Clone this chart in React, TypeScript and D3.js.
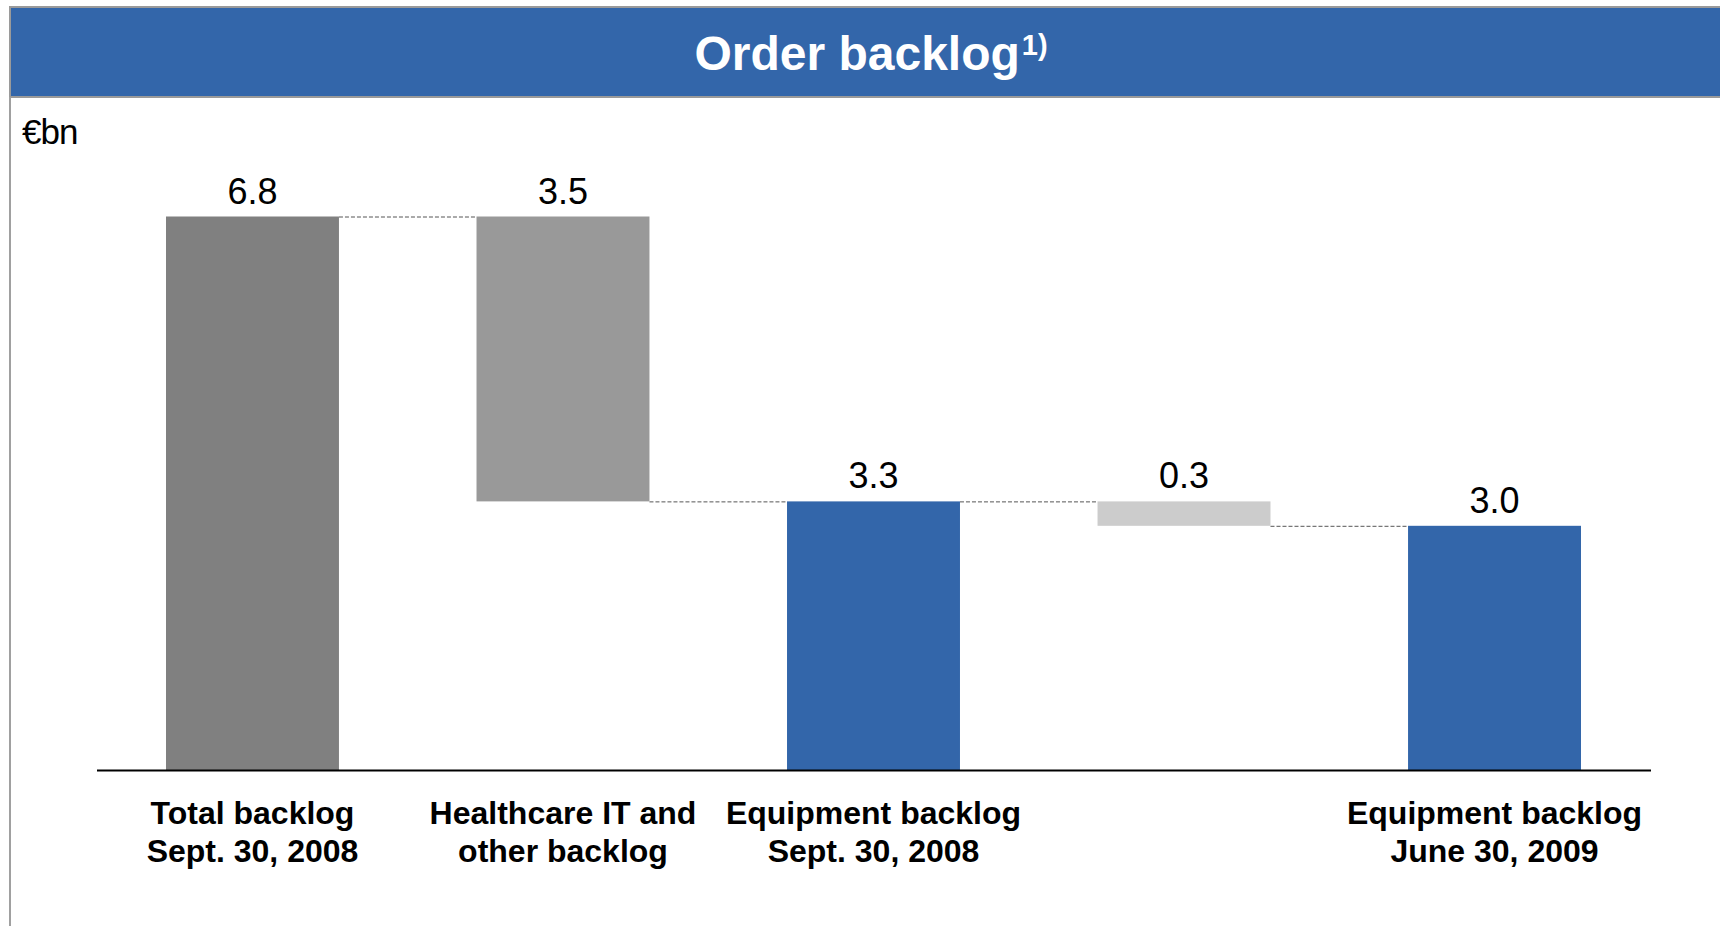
import React from "react";
import * as d3 from "d3";

const categories: string[][] = [
  ["Total backlog", "Sept. 30, 2008"],
  ["Healthcare IT and", "other backlog"],
  ["Equipment backlog", "Sept. 30, 2008"],
  [],
  ["Equipment backlog", "June 30, 2009"],
];
const values: number[] = [6.8, 3.5, 3.3, 0.3, 3.0];
const kinds: string[] = ["total", "decrease", "total", "decrease", "total"];
const valueLabels: string[] = ["6.8", "3.5", "3.3", "0.3", "3.0"];
const barColors: string[] = ["#808080", "#999999", "#3366aa", "#cccccc", "#3366aa"];

const W = 1720;
const H = 926;
const BLUE = "#3366aa";
const FONT = "'Liberation Sans', Arial, Helvetica, sans-serif";

export default function App() {
  let running = 0;
  const segs = values.map((v, i) => {
    let lo: number, hi: number;
    if (kinds[i] === "total") {
      lo = 0;
      hi = v;
      running = v;
    } else {
      hi = running;
      lo = running - v;
      running = lo;
    }
    return { i, lo, hi };
  });

  const x = d3
    .scaleBand<number>()
    .domain(values.map((_, i) => i))
    .range([166, 1581])
    .paddingInner(0.443)
    .paddingOuter(0);
  const y = d3.scaleLinear().domain([0, 6.8]).range([770, 216.5]);

  const connectors = segs.slice(0, -1).map((s, i) => {
    const next = segs[i + 1];
    return {
      x1: (x(i) as number) + x.bandwidth(),
      x2: x(i + 1) as number,
      y: y(next.hi),
    };
  });

  return (
    <svg
      width={W}
      height={H}
      style={{ position: "absolute", left: 0, top: 0, display: "block", background: "#fff" }}
      fontFamily={FONT}
    >
      <rect x={10} y={7} width={W - 9} height={90} fill={BLUE} stroke="#9a9a9a" strokeWidth={2} />
      <line x1={10} y1={97} x2={10} y2={H} stroke="#a0a0a0" strokeWidth={2} />
      <text x={871} y={70} textAnchor="middle" fill="#fff" fontSize={48} fontWeight="bold">
        Order backlog
        <tspan fontSize={29} dx={2} dy={-15}>1)</tspan>
      </text>

      <text x={22} y={144} fontSize={35} fill="#000" letterSpacing={-1}>€bn</text>

      {connectors.map((c, i) => (
        <line
          key={"c" + i}
          x1={c.x1}
          x2={c.x2}
          y1={c.y + 0.5}
          y2={c.y + 0.5}
          stroke="#555"
          strokeWidth={1}
          strokeDasharray="4,2"
        />
      ))}

      {segs.map((s) => (
        <rect
          key={"b" + s.i}
          x={x(s.i)}
          y={y(s.hi)}
          width={x.bandwidth()}
          height={y(s.lo) - y(s.hi)}
          fill={barColors[s.i]}
        />
      ))}

      {segs.map((s) => (
        <text
          key={"v" + s.i}
          x={(x(s.i) as number) + x.bandwidth() / 2}
          y={y(s.hi) - 13}
          textAnchor="middle"
          fontSize={36}
          fill="#000"
        >
          {valueLabels[s.i]}
        </text>
      ))}

      <line x1={97} x2={1651} y1={y(0) + 0.5} y2={y(0) + 0.5} stroke="#000" strokeWidth={2} />

      {categories.map((lines, i) => (
        <text
          key={"k" + i}
          x={(x(i) as number) + x.bandwidth() / 2}
          y={824}
          textAnchor="middle"
          fontSize={32}
          fontWeight="bold"
          fill="#000"
        >
          {lines.map((ln, j) => (
            <tspan key={j} x={(x(i) as number) + x.bandwidth() / 2} y={824 + j * 38}>
              {ln}
            </tspan>
          ))}
        </text>
      ))}
    </svg>
  );
}
